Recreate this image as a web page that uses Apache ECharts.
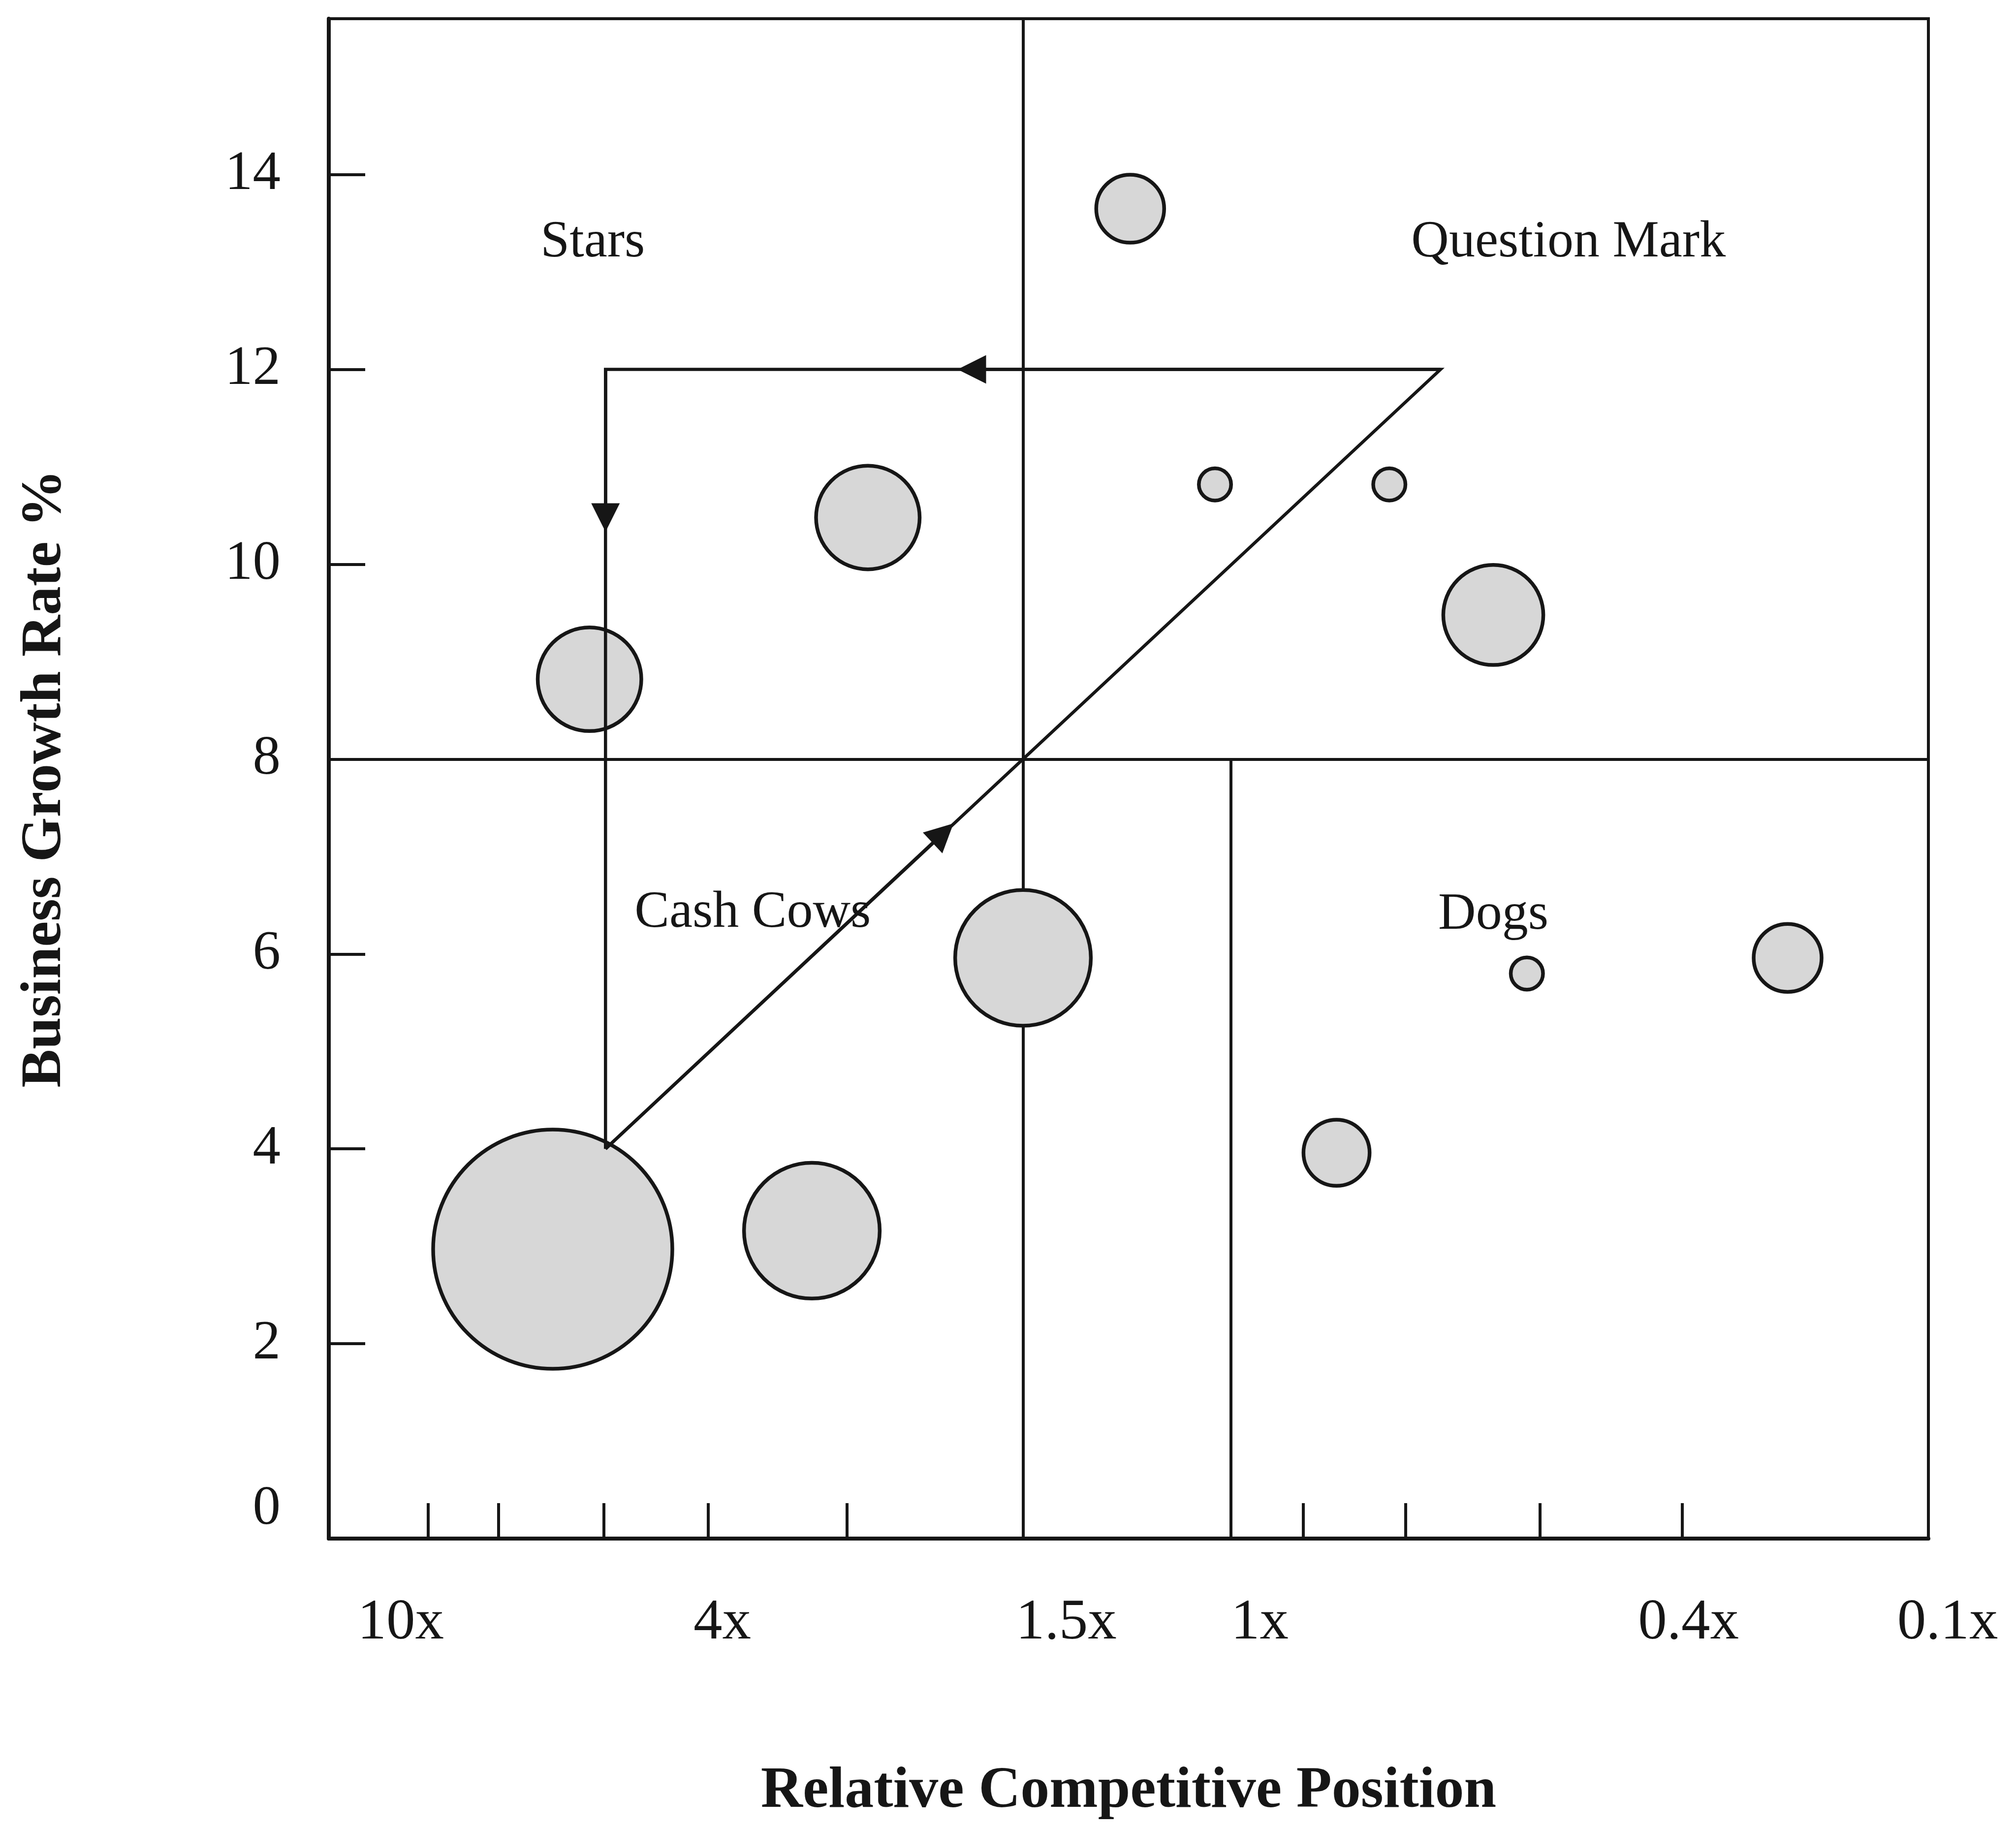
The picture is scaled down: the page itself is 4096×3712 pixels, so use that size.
<!DOCTYPE html>
<html>
<head>
<meta charset="utf-8">
<script src="https://cdn.jsdelivr.net/npm/echarts@6/dist/echarts.min.js"></script>
<style>
html,body{margin:0;padding:0;background:#ffffff;}
#chart{width:4096px;height:3712px;}
</style>
</head>
<body>
<div id="chart"></div>
<script>
// ---- Axis tick labels ----
// x axis is a schematic position scale (0 = left edge, 100 = right edge of the matrix)
const xTickLabels   = ['10x', '4x', '1.5x', '1x', '0.4x', '0.1x'];
const xTickLabelAt  = [4.5, 24.6, 46.1, 58.2, 85.0, 100];
const xTickMarks    = [6.2, 10.6, 17.2, 23.7, 32.4, 60.9, 67.3, 75.7, 84.6];
const yTickLabels   = ['0', '2', '4', '6', '8', '10', '12', '14'];
const yTickValues   = [0, 2, 4, 6, 8, 10, 12, 14];
const yTickMarks    = [2, 4, 6, 8, 10, 12, 14];

// ---- Business units (bubbles) ----
const bubbleX      = [50.1, 33.7, 16.3, 55.4, 66.3, 72.8, 43.4, 74.9, 91.2, 63.0, 30.2, 14.0];
const bubbleGrowth = [13.65, 10.48, 8.82, 10.82, 10.82, 9.48, 5.96, 5.80, 5.96, 3.96, 3.16, 2.97];
const bubbleSize   = [2, 3, 3, 1, 1, 2.9, 3.9, 1, 2, 1.95, 3.9, 6.8];

// ---- Quadrants ----
const quadrantNames = ['Stars', 'Question Mark', 'Cash Cows', 'Dogs'];
const quadrantX     = [16.5, 77.5, 26.5, 72.8];
const quadrantY     = [13.3, 13.3, 6.42, 6.4];
const growthDivide  = 8;      // horizontal divider
const shareDivide   = 43.4;   // 1.5x vertical divider
const dogsDivide    = 56.4;   // 1x divider (lower half)

// ---- Cash flow path (Cash Cows -> Question Mark -> Stars -> Cash Cows) ----
const flowX = [17.3, 69.5, 17.3, 17.3];
const flowY = [4, 12, 12, 4];
const arrowStartX = [17.3, 69.5, 17.3];
const arrowStartY = [4, 12, 12];
const arrowHeadX  = [38.4, 40.2, 17.3];
const arrowHeadY  = [7.24, 12, 10.48];

const X_MIN = 0, X_MAX = 100, Y_MIN = 0, Y_MAX = 15.6;

const INK = '#161616';
const FONT = "'Liberation Serif', 'Times New Roman', serif";

function nearestIndex(values, v) {
  let best = 0;
  for (let i = 1; i < values.length; i++) {
    if (Math.abs(values[i] - v) < Math.abs(values[best] - v)) best = i;
  }
  return best;
}

const bubbleData = bubbleX.map((x, i) => [x, bubbleGrowth[i], bubbleSize[i]]);
const quadrantData = quadrantNames.map((n, i) => [quadrantX[i], quadrantY[i], n]);
const flowCoords = flowX.map((x, i) => [x, flowY[i]]);
const arrowData = arrowStartX.map((x, i) => ({ coords: [[x, arrowStartY[i]], [arrowHeadX[i], arrowHeadY[i]]] }));

const chart = echarts.init(document.getElementById('chart'), null, { renderer: 'canvas' });

const option = {
  backgroundColor: '#ffffff',
  animation: false,
  grid: {
    left: 668, right: 178, top: 38, bottom: 586,
    show: true, borderColor: INK, borderWidth: 6, backgroundColor: 'transparent'
  },
  xAxis: {
    type: 'value', min: X_MIN, max: X_MAX,
    name: 'Relative Competitive Position',
    nameLocation: 'middle', nameGap: 456,
    nameTextStyle: { fontFamily: FONT, fontWeight: 'bold', fontSize: 118, color: INK },
    axisLine: { show: true, onZero: false, lineStyle: { color: INK, width: 8 } },
    axisTick: { show: true, inside: true, length: 72, customValues: xTickMarks, lineStyle: { color: INK, width: 6 } },
    axisLabel: {
      show: true, customValues: xTickLabelAt, margin: 114,
      fontFamily: FONT, fontSize: 117, color: INK,
      formatter: v => {
        const i = nearestIndex(xTickLabelAt, v);
        return i === xTickLabels.length - 1 ? '{edge|' + xTickLabels[i] + '}' : xTickLabels[i];
      },
      rich: {
        edge: { fontFamily: FONT, fontSize: 117, color: INK, padding: [0, 0, 0, 78] }
      }
    },
    splitLine: { show: false }
  },
  yAxis: {
    type: 'value', min: Y_MIN, max: Y_MAX,
    name: 'Business Growth Rate %',
    nameLocation: 'middle', nameGap: 518, nameRotate: 90,
    nameTextStyle: { fontFamily: FONT, fontWeight: 'bold', fontSize: 117, color: INK },
    axisLine: { show: true, onZero: false, lineStyle: { color: INK, width: 8 } },
    axisTick: { show: true, inside: true, length: 74, customValues: yTickMarks, lineStyle: { color: INK, width: 6 } },
    axisLabel: {
      show: true, customValues: yTickValues, margin: 98,
      fontFamily: FONT, fontSize: 113, color: INK,
      formatter: v => {
        const i = nearestIndex(yTickValues, v);
        return i === 0 ? '{base|' + yTickLabels[i] + '}' : yTickLabels[i];
      },
      rich: {
        base: { fontFamily: FONT, fontSize: 113, color: INK, padding: [0, 0, 120, 0] }
      }
    },
    splitLine: { show: false }
  },
  series: [
    {
      name: 'dividers', type: 'lines', coordinateSystem: 'cartesian2d', z: 2, silent: true,
      lineStyle: { color: INK, width: 6, opacity: 1 },
      data: [
        { coords: [[X_MIN, growthDivide], [X_MAX, growthDivide]] },
        { coords: [[shareDivide, Y_MIN], [shareDivide, Y_MAX]] },
        { coords: [[dogsDivide, Y_MIN], [dogsDivide, growthDivide]] }
      ]
    },
    {
      name: 'businesses', type: 'scatter', z: 3, silent: true,
      data: bubbleData,
      symbol: 'circle',
      symbolSize: d => d[2] * 72.5 - 7,
      itemStyle: { color: '#d7d7d7', borderColor: INK, borderWidth: 7.5, opacity: 1 }
    },
    {
      name: 'flow', type: 'lines', coordinateSystem: 'cartesian2d', polyline: true, z: 4, silent: true,
      lineStyle: { color: INK, width: 6.5, opacity: 1 },
      data: [{ coords: flowCoords }]
    },
    {
      name: 'arrows', type: 'lines', coordinateSystem: 'cartesian2d', z: 5, silent: true,
      symbol: ['none', 'triangle'], symbolSize: [52, 58],
      lineStyle: { color: INK, width: 6.5, opacity: 1 },
      itemStyle: { color: INK },
      data: arrowData
    },
    {
      name: 'quadrants', type: 'scatter', z: 6, silent: true,
      data: quadrantData,
      symbolSize: 0,
      itemStyle: { color: INK },
      label: {
        show: true, position: 'inside', formatter: p => p.value[2],
        fontFamily: FONT, fontSize: 106, color: INK, opacity: 1,
        textBorderWidth: 0
      }
    }
  ]
};

chart.setOption(option);
</script>
</body>
</html>
